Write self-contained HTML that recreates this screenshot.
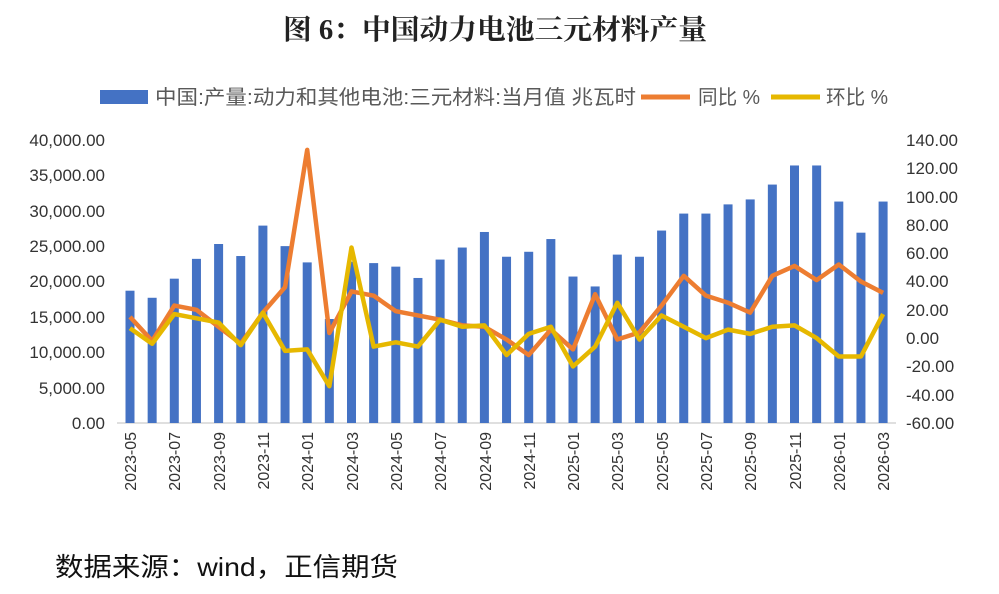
<!DOCTYPE html>
<html><head><meta charset="utf-8"><style>
body{margin:0;background:#fff;width:999px;height:589px;overflow:hidden}
svg{font-family:"Liberation Sans","Noto Sans CJK SC",sans-serif}
</style></head><body>
<svg id="s" width="999" height="589" xmlns="http://www.w3.org/2000/svg">
<text x="283" y="39" textLength="424" lengthAdjust="spacingAndGlyphs" font-size="28" font-weight="bold" font-family="Liberation Serif,Noto Serif CJK SC,serif" fill="#222">图 6：中国动力电池三元材料产量</text>
<rect x="100" y="90" width="48" height="14" fill="#4472C4"/>
<text x="155" y="104" font-size="20" textLength="481" lengthAdjust="spacingAndGlyphs" fill="#595959">中国:产量:动力和其他电池:三元材料:当月值 兆瓦时</text>
<line x1="641" y1="97" x2="690" y2="97" stroke="#ED7D31" stroke-width="5"/>
<text x="698" y="104" font-size="20" textLength="62" lengthAdjust="spacingAndGlyphs" fill="#595959">同比 %</text>
<line x1="771" y1="97" x2="820" y2="97" stroke="#E6B800" stroke-width="5"/>
<text x="826" y="104" font-size="20" textLength="62" lengthAdjust="spacingAndGlyphs" fill="#595959">环比 %</text>
<g font-size="17" fill="#333" text-anchor="end">
<text x="105" y="146">40,000.00</text><text x="105" y="181">35,000.00</text><text x="105" y="217">30,000.00</text><text x="105" y="252">25,000.00</text><text x="105" y="287">20,000.00</text><text x="105" y="323">15,000.00</text><text x="105" y="358">10,000.00</text><text x="105" y="394">5,000.00</text><text x="105" y="429">0.00</text>
</g>
<g font-size="17" fill="#333" text-anchor="start">
<text x="906" y="146">140.00</text><text x="906" y="174">120.00</text><text x="906" y="203">100.00</text><text x="906" y="231">80.00</text><text x="906" y="259">60.00</text><text x="906" y="287">40.00</text><text x="906" y="316">20.00</text><text x="906" y="344">0.00</text><text x="906" y="372">-20.00</text><text x="906" y="401">-40.00</text><text x="906" y="429">-60.00</text>
</g>
<line x1="117" y1="423" x2="896" y2="423" stroke="#bfbfbf"/>
<g id="bars"></g><g id="lines"></g>
<g font-size="16" fill="#333" text-anchor="end">
<text transform="translate(136,432) rotate(-90)">2023-05</text>
<text transform="translate(180,432) rotate(-90)">2023-07</text>
<text transform="translate(225,432) rotate(-90)">2023-09</text>
<text transform="translate(269,432) rotate(-90)">2023-11</text>
<text transform="translate(313,432) rotate(-90)">2024-01</text>
<text transform="translate(358,432) rotate(-90)">2024-03</text>
<text transform="translate(402,432) rotate(-90)">2024-05</text>
<text transform="translate(446,432) rotate(-90)">2024-07</text>
<text transform="translate(491,432) rotate(-90)">2024-09</text>
<text transform="translate(535,432) rotate(-90)">2024-11</text>
<text transform="translate(579,432) rotate(-90)">2025-01</text>
<text transform="translate(623,432) rotate(-90)">2025-03</text>
<text transform="translate(668,432) rotate(-90)">2025-05</text>
<text transform="translate(712,432) rotate(-90)">2025-07</text>
<text transform="translate(756,432) rotate(-90)">2025-09</text>
<text transform="translate(801,432) rotate(-90)">2025-11</text>
<text transform="translate(845,432) rotate(-90)">2026-01</text>
<text transform="translate(889,432) rotate(-90)">2026-03</text>
</g>
<text x="55" y="576" font-size="26" textLength="343" lengthAdjust="spacingAndGlyphs" fill="#111">数据来源：wind，正信期货</text>
</svg>
<script>
var b=[18700,17700,20400,23200,25300,23600,27900,25000,22700,14700,22800,22600,22100,20500,23100,24800,27000,23500,24200,26000,20700,19300,23800,23500,27200,29600,29600,30900,31600,33700,36400,36400,31300,26900,31300];
var y1=[15,-2,23,20,8,-4,18,36,133,3.6,33,30,19,16,13,9,8,-1,-12,6,-8,31,-1,4,23,44,30,25,18,44,51,41,52,40,32];
var y2=[7,-4,17,14,11,-5,18,-9,-8,-34,64,-6,-3,-6,13,8,9,-12,3,8,-20,-6,25,-1,16,8,0,6,3,8,9,0,-13,-13,17];
var ns="http://www.w3.org/2000/svg",g=document.getElementById('bars'),L=document.getElementById('lines');
function X(i){return 130+i*22.15}
function R(v){return 140+(140-v)/200*283}
b.forEach(function(v,i){var r=document.createElementNS(ns,'rect');var h=v/40000*283;r.setAttribute('x',X(i)-4.5);r.setAttribute('y',423-h);r.setAttribute('width',9);r.setAttribute('height',h);r.setAttribute('fill','#4472C4');g.appendChild(r);});
[[y1,'#ED7D31'],[y2,'#E6B800']].forEach(function(a){var p=document.createElementNS(ns,'polyline');p.setAttribute('points',a[0].map(function(v,i){return X(i)+','+R(v)}).join(' '));p.setAttribute('fill','none');p.setAttribute('stroke',a[1]);p.setAttribute('stroke-width',4.5);p.setAttribute('stroke-linejoin','round');L.appendChild(p);});
</script>
</body></html>
